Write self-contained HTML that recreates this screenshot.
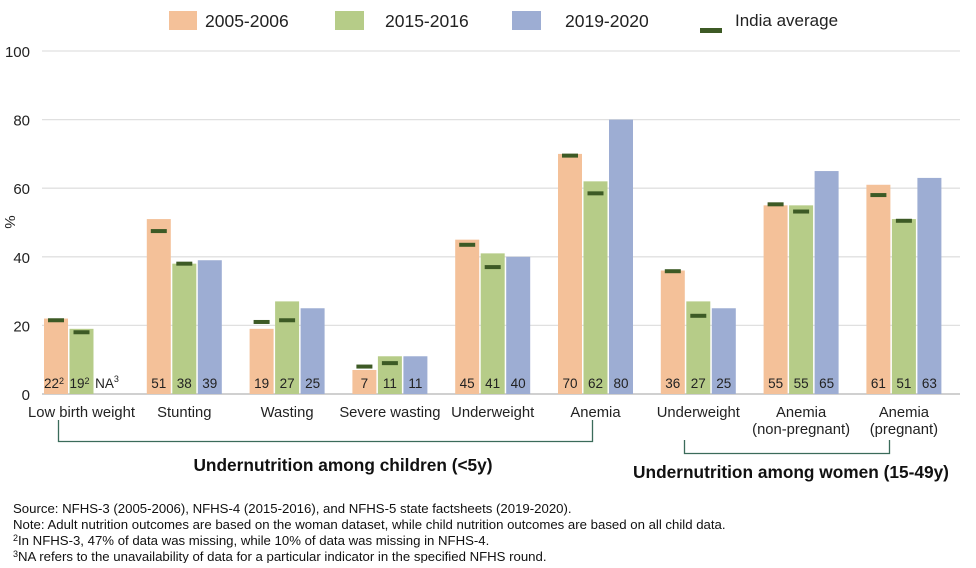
<!DOCTYPE html>
<html><head><meta charset="utf-8"><style>
body{margin:0;background:#fff;font-family:"Liberation Sans",Arial,sans-serif;}
svg text{font-family:"Liberation Sans",Arial,sans-serif;}
</style></head><body>
<svg id="chart" width="976" height="563" viewBox="0 0 976 563">
<g>
<rect x="169" y="11" width="28" height="19" fill="#f4c199"/>
<text x="205" y="27" font-size="17.5" fill="#222">2005-2006</text>
<rect x="335" y="11" width="29" height="19" fill="#b6cc88"/>
<text x="385" y="27" font-size="17.5" fill="#222">2015-2016</text>
<rect x="512" y="11" width="29" height="19" fill="#9dadd3"/>
<text x="565" y="27" font-size="17.5" fill="#222">2019-2020</text>
<rect x="700" y="28" width="22" height="5" fill="#3d5a25"/>
<text x="735" y="26" font-size="17" fill="#222">India average</text>
</g>
<text transform="translate(5,222) rotate(90)" font-size="15" fill="#222" text-anchor="middle">%</text>
<g id="grid"></g>
<g id="bars"></g>
<g>
<path d="M58.5 420 V441.5 H592.5 V420" fill="none" stroke="#3b6b5a" stroke-width="1.3"/>
<text x="343" y="471" font-size="17.3" font-weight="bold" text-anchor="middle" fill="#111">Undernutrition among children (&lt;5y)</text>
</g>
<g>
<path d="M684.5 440 V453.5 H889.5 V440" fill="none" stroke="#3b6b5a" stroke-width="1.3"/>
<text x="791" y="478" font-size="17.3" font-weight="bold" text-anchor="middle" fill="#111">Undernutrition among women (15-49y)</text>
</g>
<g font-size="13.2" fill="#111">
<text x="13" y="513">Source: NFHS-3 (2005-2006), NFHS-4 (2015-2016), and NFHS-5 state factsheets (2019-2020).</text>
<text x="13" y="529">Note: Adult nutrition outcomes are based on the woman dataset, while child nutrition outcomes are based on all child data.</text>
<text x="13" y="545"><tspan font-size="9" dy="-4">2</tspan><tspan dy="4">In NFHS-3, 47% of data was missing, while 10% of data was missing in NFHS-4.</tspan></text>
<text x="13" y="561"><tspan font-size="9" dy="-4">3</tspan><tspan dy="4">NA refers to the unavailability of data for a particular indicator in the specified NFHS round.</tspan></text>
</g>
</svg>
<script>
const categories=["Low birth weight","Stunting","Wasting","Severe wasting","Underweight","Anemia","Underweight","Anemia|(non-pregnant)","Anemia|(pregnant)"];
const s2005=[22,51,19,7,45,70,36,55,61];
const s2015=[19,38,27,11,41,62,27,55,51];
const s2019=[null,39,25,11,40,80,25,65,63];
const avg2005=[21.5,47.5,21,8,43.5,69.5,35.8,55.3,58];
const avg2015=[18,38,21.5,9,37,58.5,22.8,53.2,50.5];
const yTicks=[0,20,40,60,80,100];
const NS="http://www.w3.org/2000/svg";
const y0=394,ppu=3.43;
function y(v){return y0-v*ppu;}
function gx(i){return 44+102.8*i;}
const bw=24,step=25.5;
const grid=document.getElementById('grid'),bars=document.getElementById('bars');
function mk(tag,attrs,parent){const e=document.createElementNS(NS,tag);for(const k in attrs)e.setAttribute(k,attrs[k]);parent.appendChild(e);return e;}
yTicks.forEach(t=>{
  const l=mk('line',{x1:42,x2:960,y1:y(t),y2:y(t),stroke:t===0?'#d0d0d0':'#e0e0e0','stroke-width':t===0?2:1.3},grid);
  
  
  const tx=mk('text',{x:30,y:y(t)+6,'font-size':15,'text-anchor':'end',fill:'#222'},grid);
  tx.textContent=t;
  
  
});
const series=[[s2005,'#f4c199','2005'],[s2015,'#b6cc88','2015'],[s2019,'#9dadd3','2019']];
categories.forEach((c,i)=>{
  series.forEach(([arr,col,nm],j)=>{
    const x=gx(i)+j*step,v=arr[i];
    if(v!==null){
      const r=mk('rect',{x:x,y:y(v),width:bw,height:v*ppu,fill:col},bars);
      
      
    }
    const t=mk('text',{x:x+bw/2,y:y0-6,'font-size':13.5,'text-anchor':'middle',fill:'#222'},bars);
    
    
    if(v===null){t.innerHTML='NA<tspan font-size="9" dy="-6">3</tspan>';}
    else if(i===0){t.setAttribute('x',x+bw/2-2);t.innerHTML=v+'<tspan font-size="9" dy="-4">2</tspan>';}
    else t.textContent=v;
  });
  [[avg2005,0],[avg2015,1]].forEach(([arr,j])=>{
    const m=mk('rect',{x:gx(i)+j*step+4,y:y(arr[i])-2,width:16,height:4,fill:'#3d5a25'},bars);
    
    
  });
  const parts=c.split('|');
  const lab=mk('text',{x:gx(i)+bw*1.5+1.5,y:417,'font-size':14.8,'text-anchor':'middle',fill:'#222'},bars);
  
  
  parts.forEach((p,k)=>{const ts=mk('tspan',{x:gx(i)+bw*1.5+1.5,dy:k?17:0},lab);ts.textContent=p;});
});
</script>
</body></html>
